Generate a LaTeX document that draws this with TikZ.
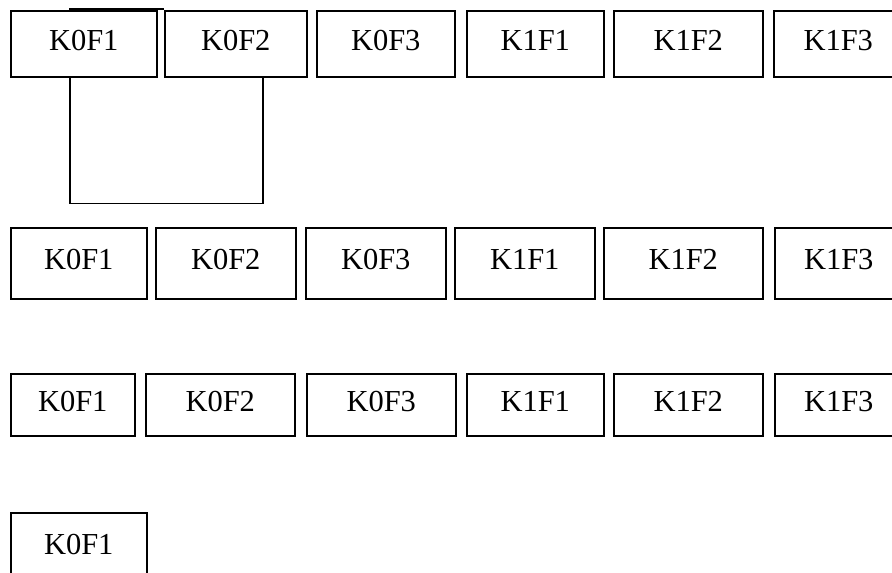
\documentclass[tikz,border=0pt]{standalone}
\usepackage{fontspec}
\setmainfont{Liberation Serif}
\usetikzlibrary{backgrounds}
\begin{document}
\begin{tikzpicture}[x=1pt,y=-1pt,
  box/.style={draw, fill=white, line width=1.5pt, inner sep=0pt, anchor=north west,
    text height=21pt, text depth=8pt, font=\fontsize{30.5}{36}\selectfont},
  conn/.style={draw, line width=1.5pt}]
\useasboundingbox (0,0) rectangle (892,573);
\clip (0,0) rectangle (892,573);
\newcommand\mybox[6]{\node[box, minimum width=#4pt, minimum height=#5pt] (#1) at (#2,#3) {#6};}
% row 1
\mybox{ra1}{10}{10}{146}{66}{K0F1}
\mybox{ra2}{164}{10}{142}{66}{K0F2}
\mybox{ra3}{316}{10}{138}{66}{K0F3}
\mybox{ra4}{466}{10}{137}{66}{K1F1}
\mybox{ra5}{613}{10}{149}{66}{K1F2}
\mybox{ra6}{773}{10}{129}{66}{K1F3}
% row 2
\mybox{rb1}{10}{227}{136}{71}{K0F1}
\mybox{rb2}{155}{227}{140}{71}{K0F2}
\mybox{rb3}{305}{227}{140}{71}{K0F3}
\mybox{rb4}{454}{227}{140}{71}{K1F1}
\mybox{rb5}{603}{227}{159}{71}{K1F2}
\mybox{rb6}{774}{227}{128}{71}{K1F3}
% row 3
\mybox{rc1}{10}{373}{124}{62}{K0F1}
\mybox{rc2}{145}{373}{149}{62}{K0F2}
\mybox{rc3}{306}{373}{149}{62}{K0F3}
\mybox{rc4}{466}{373}{137}{62}{K1F1}
\mybox{rc5}{613}{373}{149}{62}{K1F2}
\mybox{rc6}{774}{373}{128}{62}{K1F3}
% row 4
\mybox{rd1}{10}{512}{136}{71}{K0F1}
% connector
\begin{pgfonlayer}{background}
\draw[conn] ([yshift=0.8pt]ra2.north west) -- ([xshift=60pt,yshift=0.8pt]ra1.north west)
  -- ([xshift=60pt]ra1.south west) -- ++(0,126) -| ([xshift=99pt]ra2.south west);
\end{pgfonlayer}
\end{tikzpicture}
\end{document}
